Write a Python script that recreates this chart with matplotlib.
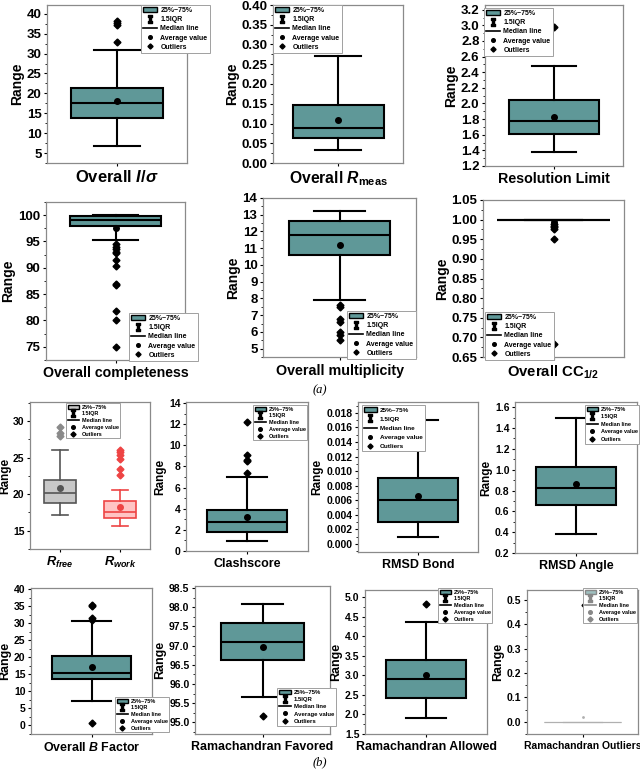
import numpy as np
import matplotlib.pyplot as plt
from matplotlib.patches import Patch
from matplotlib.lines import Line2D
from matplotlib.ticker import MultipleLocator, AutoMinorLocator, FormatStrFormatter

plt.rcParams['font.family'] = 'Liberation Sans'
plt.rcParams['font.weight'] = 'bold'
plt.rcParams['mathtext.fontset'] = 'custom'
plt.rcParams['mathtext.rm'] = 'Liberation Sans:bold'
plt.rcParams['mathtext.it'] = 'Liberation Sans:italic:bold'
plt.rcParams['mathtext.bf'] = 'Liberation Sans:bold'

W, H = 640, 771
TEAL = '#5f9898'

# box data: [whisker low, q1, median, q3, whisker high], mean, outliers
iosig = [6.8, 13.9, 17.5, 21.3, 30.8]
iosig_mean = 18.1
iosig_out = [32.8, 37.2, 37.8, 38.3]

rmeas = [0.034, 0.064, 0.089, 0.147, 0.27]
rmeas_mean = 0.11
rmeas_out = [0.37]

reso = [1.38, 1.61, 1.77, 2.05, 2.48]
reso_mean = 1.83
reso_out = [2.98]

compl = [95.3, 98.0, 99.1, 99.9, 100.0]
compl_mean = 97.5
compl_out = [94.5, 94.0, 93.6, 93.0, 92.8, 91.5, 90.3, 87.0, 86.8, 81.8, 80.0, 75.0]

multi = [7.9, 10.6, 11.8, 12.6, 13.2]
multi_mean = 11.2
multi_out = [7.6, 7.5, 6.8, 6.6, 6.0, 5.8, 5.5]

cc = [1.0, 0.998, 1.0, 1.0, 1.0]
cc_mean = 0.993
cc_out = [0.99, 0.985, 0.98, 0.977, 0.95, 0.684]

rfree = [17.2, 18.8, 20.2, 21.9, 26.1]
rfree_mean = 20.8
rfree_out = [28.0, 28.4, 29.2]
rwork = [15.7, 16.8, 17.6, 19.0, 20.6]
rwork_mean = 18.2
rwork_out = [22.6, 23.5, 24.8, 25.3, 25.8, 26.1]

clash = [0.9, 1.8, 2.7, 3.9, 7.0]
clash_mean = 3.2
clash_out = [7.4, 8.5, 8.6, 9.1, 12.2]

bond = [0.001, 0.003, 0.006, 0.009, 0.017]
bond_mean = 0.0066
bond_out = []

angle = [0.38, 0.66, 0.82, 1.03, 1.5]
angle_mean = 0.86
angle_out = []

bfac = [7.0, 13.5, 15.2, 20.3, 30.5]
bfac_mean = 17.2
bfac_out = [0.7, 30.9, 31.5, 35.0, 35.2]

ramfav = [95.65, 96.62, 97.1, 97.58, 98.07]
ramfav_mean = 96.96
ramfav_out = [95.18]

ramall = [1.92, 2.42, 2.9, 3.38, 4.35]
ramall_mean = 3.02
ramall_out = [4.82]

ramout = [0.0, 0.0, 0.0, 0.0, 0.0]
ramout_mean = 0.02
ramout_out = [0.48]

leg_labels = ['25%~75%', '1.5IQR', 'Median line', 'Average value', 'Outliers']

fig = plt.figure(figsize=(W / 100, H / 100), dpi=100)


def make_ax(px):
    x0, y0, x1, y1 = px
    return fig.add_axes([x0 / W, 1 - y1 / H, (x1 - x0) / W, (y1 - y0) / H])


def stat(v, mean, out):
    return dict(whislo=v[0], q1=v[1], med=v[2], q3=v[3], whishi=v[4], mean=mean, fliers=out)


def draw_box(ax, s, pos, width, face, edge, lw=1.5, ms=4, fms=3.5, fcol=None):
    fcol = fcol or edge
    ax.bxp([s], positions=[pos], widths=width, showmeans=True, patch_artist=True,
           boxprops=dict(facecolor=face, edgecolor=edge, linewidth=lw),
           medianprops=dict(color=edge, linewidth=lw),
           whiskerprops=dict(color=edge, linewidth=lw),
           capprops=dict(color=edge, linewidth=lw),
           meanprops=dict(marker='o', markerfacecolor=edge, markeredgecolor=edge, markersize=ms),
           flierprops=dict(marker='D', markerfacecolor=fcol, markeredgecolor=fcol, markersize=fms))


def style_ax(ax, ylim, step, fmt, tfs, lfs):
    ax.set_ylim(*ylim)
    ax.yaxis.set_major_locator(MultipleLocator(step))
    ax.yaxis.set_minor_locator(AutoMinorLocator(2))
    ax.yaxis.set_major_formatter(FormatStrFormatter(fmt))
    ax.tick_params(axis='y', labelsize=tfs, length=2.5, width=0.8, pad=1.5, colors='black')
    ax.tick_params(axis='y', which='minor', length=1.3, width=0.6)
    ax.tick_params(axis='x', length=2.5, width=0.8, pad=1.5)
    for sp in ax.spines.values():
        sp.set_color('#8a8a8a')
        sp.set_linewidth(0.9)
    ax.set_ylabel('Range', fontsize=lfs, fontweight='bold', labelpad=2)


def add_legend(px, color=TEAL, fs=5.0, edge='black', txt='black', sp=0.3):
    handles = [Patch(facecolor=color, edgecolor=edge, linewidth=1.0),
               Line2D([], [], color=edge, marker=r'$\mathtt{I}$', linestyle='none', markersize=5.5),
               Line2D([], [], color=edge, linewidth=1.2),
               Line2D([], [], color=edge, marker='o', linestyle='none', markersize=2.6),
               Line2D([], [], color=edge, marker='D', linestyle='none', markersize=2.6)]
    lg = fig.legend(handles, leg_labels, loc='upper left',
                    bbox_to_anchor=(px[0] / W, 1 - px[1] / H), bbox_transform=fig.transFigure,
                    fontsize=fs, frameon=True, fancybox=False, framealpha=1,
                    edgecolor='#a0a0a0', borderpad=0.3, labelspacing=sp,
                    handlelength=2.0, handleheight=0.8, handletextpad=0.5, borderaxespad=0)
    lg.get_frame().set_linewidth(0.7)
    for t in lg.get_texts():
        t.set_color(txt)
    return lg


def single(px, vals, mean, out, ylim, step, fmt, title, legxy, width=0.66,
           tfs=9.5, lfs=10, ttfs=10.5, lgfs=5.0, pad=0.5, lgsp=0.3):
    ax = make_ax(px)
    draw_box(ax, stat(vals, mean, out), 1, width, TEAL, 'black')
    ax.set_xlim(0.5, 1.5)
    ax.set_xticks([1])
    ax.set_xticklabels([''])
    style_ax(ax, ylim, step, fmt, tfs, lfs)
    ax.set_xlabel(title, fontsize=ttfs, fontweight='bold', labelpad=pad)
    add_legend(legxy, fs=lgfs, sp=lgsp)
    return ax


# row 1
single((47, 5, 187, 163), iosig, iosig_mean, iosig_out, (2.5, 42.2), 5, '%d',
       r'Overall $I/σ$', (141, 5), ttfs=12)
single((273, 5, 403, 163), rmeas, rmeas_mean, rmeas_out, (0, 0.40), 0.05, '%.2f',
       r'Overall $R_{\mathrm{meas}}$', (273, 5), width=0.70, ttfs=11.3)
single((485, 5, 623, 166), reso, reso_mean, reso_out, (1.2, 3.26), 0.2, '%.1f',
       'Resolution Limit', (484, 8), width=0.65, ttfs=10.3, pad=0)

# row 2
single((46, 202, 185, 360), compl, compl_mean, compl_out, (72.5, 102.5), 5, '%d',
       'Overall completeness', (129, 313), ttfs=10.2, pad=0)
single((263, 198, 416, 357), multi, multi_mean, multi_out, (4.5, 14.0), 1, '%d',
       'Overall multiplicity', (347, 311), width=0.66, ttfs=10.3, pad=1)
single((483, 200, 624, 357), cc, cc_mean, cc_out, (0.65, 1.05), 0.05, '%.2f',
       r'Overall CC$_{1/2}$', (485, 312), width=0.80, ttfs=10.7, pad=0.5)

fig.text(320 / W, 1 - 390 / H, '(a)', family='Liberation Serif', style='italic',
         weight='normal', fontsize=9, ha='center', va='center')

# row 3
ax = make_ax((30, 402, 150, 549))
draw_box(ax, stat(rfree, rfree_mean, rfree_out), 1, 0.52, '#c8c8c8', '#555555', lw=1.2, fcol='#8a8a8a')
draw_box(ax, stat(rwork, rwork_mean, rwork_out), 2, 0.52, '#ffc4c4', '#ee4444', lw=1.2)
ax.set_xlim(0.5, 2.5)
ax.set_xticks([1, 2])
ax.set_xticklabels([r'$R_{free}$', r'$R_{work}$'], fontsize=9.3)
style_ax(ax, (12.5, 32.6), 5, '%d', 7.5, 8.5)
ax.yaxis.labelpad = 1
add_legend((66, 403), color='#c8c8c8', fs=4.0)

single((186, 402, 308, 551), clash, clash_mean, clash_out, (0, 14.1), 2, '%d',
       'Clashscore', (253, 405), tfs=7.5, lfs=8.5, ttfs=9.0, lgfs=4.0, pad=1)
single((358, 402, 478, 552), bond, bond_mean, bond_out, (-0.0011, 0.0195), 0.002, '%.3f',
       'RMSD Bond', (362, 405), tfs=7.5, lfs=8.5, ttfs=9.0, lgfs=4.6, pad=1, lgsp=0.55)
single((515, 402, 637, 553), angle, angle_mean, angle_out, (0.2, 1.65), 0.2, '%.1f',
       'RMSD Angle', (585, 405), tfs=7.5, lfs=8.5, ttfs=9.0, lgfs=4.0, pad=1, lgsp=0.45)

# row 4
single((31, 588, 152, 734), bfac, bfac_mean, bfac_out, (-2.6, 40.3), 5, '%d',
       r'Overall $B$ Factor', (115, 697), tfs=7.5, lfs=9, ttfs=8.9, lgfs=4.0, pad=1)
single((195, 586, 330, 734), ramfav, ramfav_mean, ramfav_out, (94.7, 98.55), 0.5, '%.1f',
       'Ramachandran Favored', (277, 688), width=0.62, tfs=7.5, lfs=9, ttfs=8.9, lgfs=4.3, pad=1)
single((365, 590, 487, 734), ramall, ramall_mean, ramall_out, (1.5, 5.18), 0.5, '%.1f',
       'Ramachandran Allowed', (438, 588), tfs=7.5, lfs=9, ttfs=8.9, lgfs=4.0, pad=1)

ax = make_ax((527, 590, 638, 734))
draw_box(ax, stat(ramout, ramout_mean, ramout_out), 1, 0.70, '#9fc0c0', '#b0b0b0',
         lw=0.8, ms=1.0, fms=1.5, fcol='black')
ax.set_xlim(0.5, 1.5)
ax.set_xticks([1])
ax.set_xticklabels([''])
style_ax(ax, (-0.05, 0.54), 0.1, '%.1f', 7.5, 9)
ax.set_xlabel('Ramachandran Outliers', fontsize=7.5, fontweight='bold', labelpad=1)
add_legend((583, 588), color='#9fc0c0', fs=4.0, edge='#888888')

fig.text(320 / W, 1 - 762 / H, '(b)', family='Liberation Serif', style='italic',
         weight='normal', fontsize=9, ha='center', va='center')

fig.savefig('out.png', dpi=100)
